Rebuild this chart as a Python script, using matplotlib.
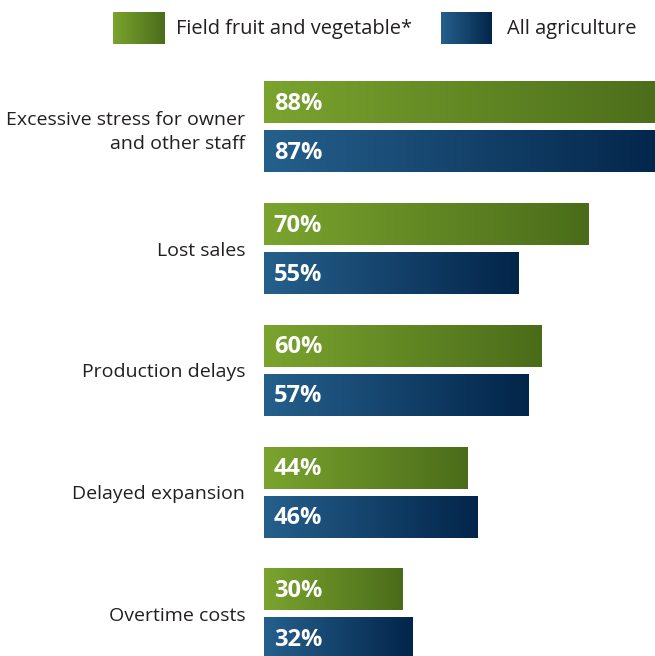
import numpy as np
import matplotlib
matplotlib.use("Agg")
import matplotlib.pyplot as plt
from matplotlib.colors import LinearSegmentedColormap

# data
categories = ["Excessive stress for owner\nand other staff", "Lost sales",
              "Production delays", "Delayed expansion", "Overtime costs"]
field_fruit = [88, 70, 60, 44, 30]
all_agri = [87, 55, 57, 46, 32]
series_names = ["Field fruit and vegetable*", "All agriculture"]

plt.rcParams['font.family'] = ['Open Sans', 'DejaVu Sans']

green_cm = LinearSegmentedColormap.from_list("g", ["#7aa42e", "#4a6c1a"])
blue_cm = LinearSegmentedColormap.from_list("b", ["#25608c", "#03254a"])
grad = np.linspace(0, 1, 256).reshape(1, -1)

W, H = 655, 656
fig = plt.figure(figsize=(W / 100, H / 100), dpi=100)
ax = fig.add_axes([264 / W, 0, 1 - 264 / W, 1 - 60 / H])

y = np.arange(len(categories))
h = 42 / 121.7
off = 24.5 / 121.7

bars1 = ax.barh(y - off, field_fruit, height=h, color="none")
bars2 = ax.barh(y + off, all_agri, height=h, color="none")

def fill_gradient(bars, cmap, values):
    for b, v in zip(bars, values):
        x0, y0 = b.get_x(), b.get_y()
        ax.imshow(grad, cmap=cmap, aspect="auto", interpolation="bicubic",
                  extent=[x0, x0 + b.get_width(), y0 + b.get_height(), y0],
                  zorder=2)
        ax.annotate(f"{v}%", (x0, y0 + b.get_height() / 2), xytext=(7, -1),
                    textcoords="offset points", ha="left", va="center",
                    color="white", fontsize=17, fontweight="bold", zorder=3)

fill_gradient(bars1, green_cm, field_fruit)
fill_gradient(bars2, blue_cm, all_agri)

ax.set_xlim(0, 84.4)
ax.set_ylim((656 - 127) / 121.7, (60 - 127) / 121.7)
ax.set_yticks(y)
ax.set_yticklabels(categories, fontsize=14, color="#231f20", ha="right",
                   multialignment="right", linespacing=1.45)
ax.tick_params(axis="y", length=0, pad=13.5)
ax.set_xticks([])
for s in ax.spines.values():
    s.set_visible(False)

# legend
for x0, cmap, label, tx in [(113, green_cm, series_names[0], 176),
                            (441, blue_cm, series_names[1], 507)]:
    lax = fig.add_axes([x0 / W, 1 - 44 / H, 51 / W, 32 / H])
    lax.imshow(grad, cmap=cmap, aspect="auto", interpolation="bicubic")
    lax.axis("off")
    fig.text(tx / W, 1 - 29 / H, label, fontsize=14.4, color="#231f20",
             ha="left", va="center")

fig.savefig("out.png", dpi=100)
